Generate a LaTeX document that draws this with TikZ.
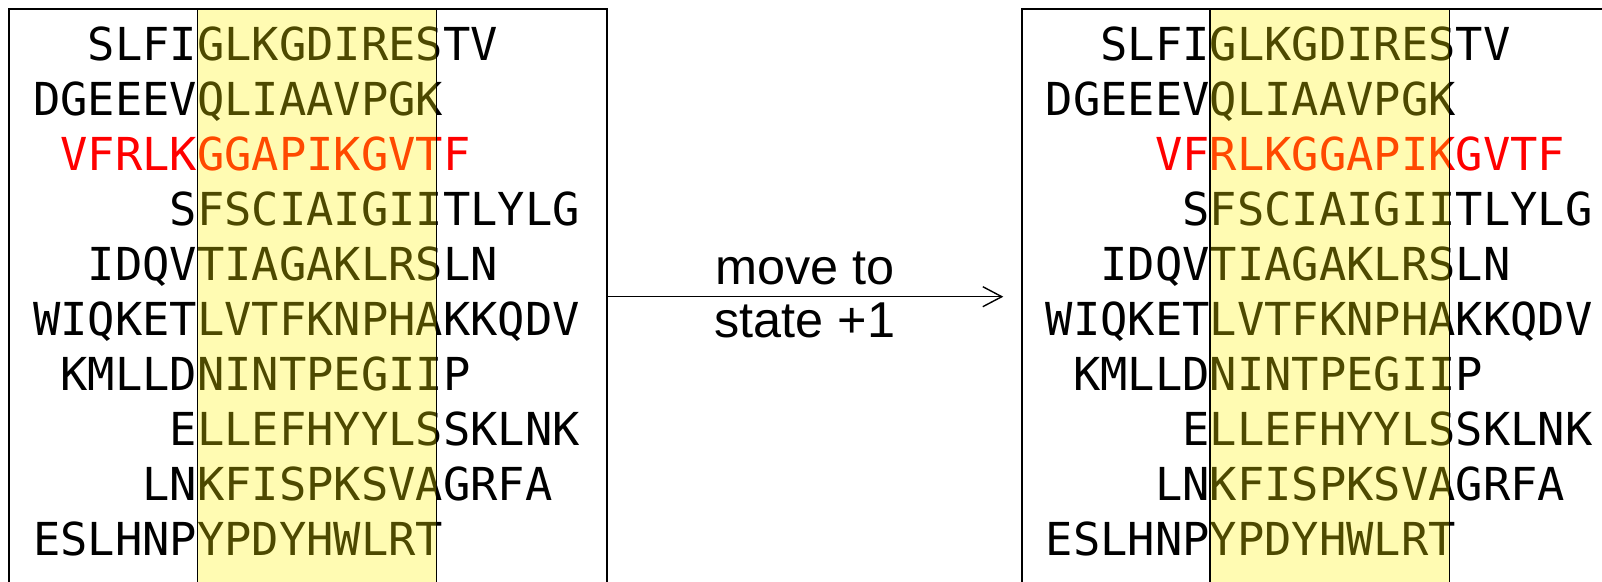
\documentclass[tikz,border=0pt]{standalone}
\usepackage{fontspec}
\newfontfamily\seqfont{DejaVu Sans Mono}
\newfontfamily\labelfont{Liberation Sans}
\usetikzlibrary{arrows.meta}
\begin{document}
\begin{tikzpicture}[x=0.5pt,y=-0.5pt,
  seq/.style={font=\seqfont\fontsize{22.7pt}{26pt}\selectfont, inner sep=0pt, anchor=base west},
  panel/.style={draw=black, line width=1pt},
  window/.style={fill=yellow, fill opacity=0.3, draw=black, draw opacity=1, line width=0.6pt},
  lbl/.style={font=\labelfont\fontsize{25.2pt}{30pt}\selectfont, inner sep=0pt, anchor=base},
  movearrow/.style={-{Straight Barb[length=9.5pt,width=10pt]}, line width=0.7pt}]
\useasboundingbox (0,0) rectangle (1602,582);
\clip (0,0) rectangle (1602,582);

% panel frames (they run on past the lower and right page edges)
\draw[panel] (9,9) rectangle (607,640);
\draw[panel] (1021.7,9) rectangle (1620,640);

% state 0: sequences aligned on the window's left edge
\foreach \i/\l/\c/\r/\col in {
  1/SLFI/GLKGDIRES/TV/black,
  2/DGEEEV/QLIAAVPGK/{}/black,
  3/VFRLK/GGAPIKGVT/F/red,
  4/S/FSCIAIGII/TLYLG/black,
  5/IDQV/TIAGAKLRS/LN/black,
  6/WIQKET/LVTFKNPHA/KKQDV/black,
  7/KMLLD/NINTPEGII/P/black,
  8/E/LLEFHYYLS/SKLNK/black,
  9/LN/KFISPKSVA/GRFA/black,
  10/ESLHNP/YPDYHWLRT/{}/black}
  \node[seq, text=\col] (L\i) at (196.8,{60.8+54.95*(\i-1)}) {\llap{\l}\c\r};

% state +1: the red sequence is moved three positions
\foreach \i/\l/\c/\r/\col in {
  1/SLFI/GLKGDIRES/TV/black,
  2/DGEEEV/QLIAAVPGK/{}/black,
  3/VF/RLKGGAPIK/GVTF/red,
  4/S/FSCIAIGII/TLYLG/black,
  5/IDQV/TIAGAKLRS/LN/black,
  6/WIQKET/LVTFKNPHA/KKQDV/black,
  7/KMLLD/NINTPEGII/P/black,
  8/E/LLEFHYYLS/SKLNK/black,
  9/LN/KFISPKSVA/GRFA/black,
  10/ESLHNP/YPDYHWLRT/{}/black}
  \node[seq, text=\col] (R\i) at (1209.5,{60.8+54.95*(\i-1)}) {\llap{\l}\c\r};

% motif windows laid over the sequences
\draw[window] (197.3,9) rectangle (436.7,640);
\draw[window] (1210,9) rectangle (1449.4,640);

% transition
\coordinate (from) at (607,296.7);
\coordinate (to) at (1003.3,296.7);
\draw[movearrow] (from) -- (to);
\node[lbl] (t1) at (805,285) {move to};
\node[lbl] (t2) at (805,338) {state +1};
\end{tikzpicture}
\end{document}
